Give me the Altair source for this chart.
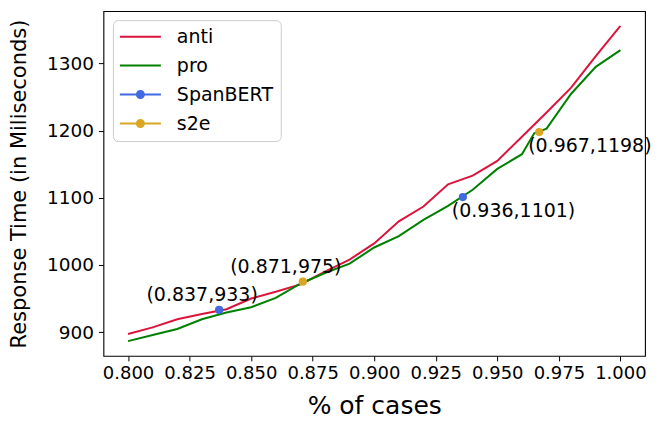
import altair as alt
import pandas as pd

FONT = "DejaVu Sans"

# ---- data ----
anti_x = [0.80, 0.81, 0.82, 0.83, 0.84, 0.85, 0.86, 0.87, 0.88, 0.89, 0.90,
          0.91, 0.92, 0.93, 0.94, 0.95, 0.96, 0.97, 0.98, 0.99, 1.00]
anti_y = [897, 907, 919, 927, 934, 950, 960, 971, 990, 1008, 1032,
          1065, 1087, 1120, 1133, 1155, 1191, 1227, 1264, 1311, 1356]

pro_x = [0.80, 0.81, 0.82, 0.83, 0.84, 0.85, 0.86, 0.87, 0.88, 0.89, 0.90,
         0.91, 0.92, 0.93, 0.94, 0.95, 0.96, 0.965, 0.97, 0.98, 0.99, 1.00]
pro_y = [886.5, 895.5, 904.5, 919, 929, 937, 951, 972, 988, 1002, 1026,
         1043, 1067, 1088, 1112, 1143, 1165, 1196, 1203, 1255, 1295, 1320]

spanbert_x = [0.837, 0.936]
spanbert_y = [933, 1101]
s2e_x = [0.871, 0.967]
s2e_y = [975, 1198]

series_names = ["anti", "pro", "SpanBERT", "s2e"]
series_colors = ["#dc143c", "#008000", "#4169e1", "#daa520"]

x_ticks = [0.800, 0.825, 0.850, 0.875, 0.900, 0.925, 0.950, 0.975, 1.000]
y_ticks = [900, 1000, 1100, 1200, 1300]

# legend glyphs (unit = 9.5 px): a line, and a line with a dot
LINE = "M-2.16,-0.105L2.16,-0.105L2.16,0.105L-2.16,0.105Z"
DOT = LINE + "M0.474,0A0.474,0.474,0,1,1,-0.474,0A0.474,0.474,0,1,1,0.474,0Z"
legend_shapes = [LINE, LINE, DOT, DOT]

# ---- tables ----
lines_df = pd.concat([
    pd.DataFrame({"x": anti_x, "y": anti_y, "series": "anti"}),
    pd.DataFrame({"x": pro_x, "y": pro_y, "series": "pro"}),
], ignore_index=True)

pts_df = pd.concat([
    pd.DataFrame({"x": spanbert_x, "y": spanbert_y, "series": "SpanBERT"}),
    pd.DataFrame({"x": s2e_x, "y": s2e_y, "series": "s2e"}),
], ignore_index=True)
pts_df["label"] = [f"({x},{int(y)})" for x, y in zip(pts_df["x"], pts_df["y"])]

all_df = pd.concat([lines_df, pts_df[["x", "y", "series"]]], ignore_index=True)

# ---- encodings ----
x_enc = alt.X(
    "x:Q",
    scale=alt.Scale(domain=[0.79, 1.01], nice=False, zero=False),
    axis=alt.Axis(values=x_ticks, format=".3f", title="% of cases", grid=False,
                  domain=False, tickSize=5, tickWidth=1, tickColor="black",
                  labelFont=FONT, labelFontSize=18, labelColor="black",
                  labelPadding=4, labelOverlap=False, labelFlush=False,
                  titleFont=FONT, titleFontSize=25, titleFontWeight="normal",
                  titleColor="black", titlePadding=11),
)
y_enc = alt.Y(
    "y:Q",
    scale=alt.Scale(domain=[864.5, 1378], nice=False, zero=False),
    axis=alt.Axis(values=y_ticks, format="d", title="Response Time (in Miliseconds)",
                  grid=False, domain=False, tickSize=5, tickWidth=1, tickColor="black",
                  labelFont=FONT, labelFontSize=18.5, labelColor="black",
                  labelPadding=5, labelOverlap=False, labelFlush=False,
                  titleFont=FONT, titleFontSize=21, titleFontWeight="normal",
                  titleColor="black", titlePadding=17),
)
color_scale = alt.Scale(domain=series_names, range=series_colors)

legend = alt.Legend(
    title=None, orient="none", legendX=9.5, legendY=9,
    symbolSize=361, symbolStrokeWidth=0, symbolOpacity=1, symbolOffset=11,
    labelFont=FONT, labelFontSize=19, labelColor="black", labelOffset=27,
    labelLimit=300, padding=7, rowPadding=9,
    fillColor="rgba(255,255,255,0.8)", strokeColor="#cccccc", cornerRadius=5,
)

legend_layer = alt.Chart(all_df).mark_point(filled=True, opacity=0).encode(
    x=x_enc, y=y_enc,
    color=alt.Color("series:N", scale=color_scale, legend=legend),
    shape=alt.Shape("series:N", scale=alt.Scale(domain=series_names, range=legend_shapes),
                    legend=legend),
)

line_layer = alt.Chart(lines_df).mark_line(strokeWidth=2).encode(
    x=x_enc, y=y_enc,
    color=alt.Color("series:N", scale=color_scale, legend=None),
)

point_layer = alt.Chart(pts_df).mark_circle(size=68, opacity=1).encode(
    x=x_enc, y=y_enc,
    color=alt.Color("series:N", scale=color_scale, legend=None),
)

above = alt.Chart(pts_df).transform_filter("datum.x < 0.9").mark_text(
    align="center", baseline="middle", dx=-17, dy=-15,
    font=FONT, fontSize=19, color="black",
).encode(x=x_enc, y=y_enc, text="label:N")

below = alt.Chart(pts_df).transform_filter("datum.x >= 0.9").mark_text(
    align="left", baseline="middle", dx=-11, dy=14,
    font=FONT, fontSize=19, color="black",
).encode(x=x_enc, y=y_enc, text="label:N")

chart = alt.layer(legend_layer, line_layer, point_layer, above, below).properties(
    width=542, height=345,
    padding={"left": 95.5, "top": 3, "right": 10, "bottom": 66},
    autosize=alt.AutoSizeParams(type="none"),
    background="white",
).configure_view(stroke="black", strokeWidth=1.1)

chart.save("out.html", embed_options={"renderer": "svg", "actions": False})
